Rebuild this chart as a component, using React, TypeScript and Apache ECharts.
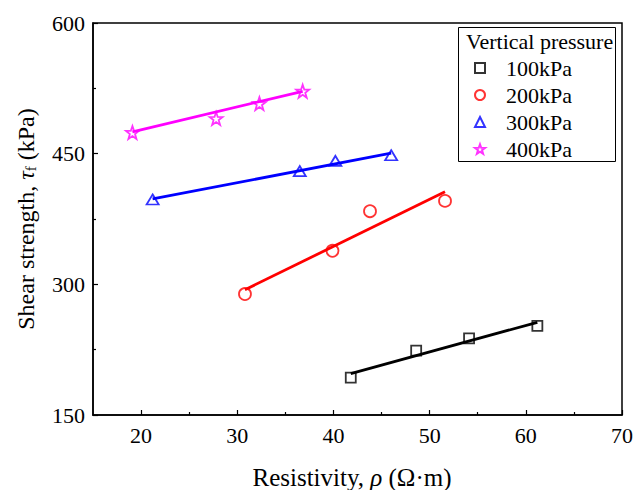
import React, { useEffect, useRef } from 'react';
import * as echarts from 'echarts';

const seriesNames = ['100kPa', '200kPa', '300kPa', '400kPa'];
const colors = ['#000000', '#ff0000', '#0000ff', '#ff00ff'];

const rho100 = [41.8, 48.6, 54.1, 61.2];
const tau100 = [192.8, 223.8, 238.0, 252.4];
const rho200 = [30.8, 39.9, 43.8, 51.6];
const tau200 = [288.8, 338.5, 384.0, 395.8];
const rho300 = [21.2, 36.5, 40.2, 46.0];
const tau300 = [397.4, 429.9, 441.7, 448.2];
const rho400 = [19.1, 27.8, 32.3, 36.8];
const tau400 = [474.3, 490.3, 507.5, 521.7];

// fitted line end points [rho, tau]
const fit100 = [[41.8, 197.6], [61.2, 256.4]];
const fit200 = [[30.8, 293.8], [51.6, 406.3]];
const fit300 = [[21.2, 398.0], [46.0, 450.5]];
const fit400 = [[19.1, 475.1], [36.8, 521.6]];

const xMajorTicks = [20, 30, 40, 50, 60, 70];
const xMinorTicks = [25, 35, 45, 55, 65];
const yTicks = [150, 300, 450, 600];

const legendTitle = 'Vertical pressure';
const xTitle = 'Resistivity, {i|ρ} (Ω·m)';
const yTitle = 'Shear strength, {i|τ}{s|f} (kPa)';

const FONT = 'Liberation Serif';
const STAR = 'path://M10 0 L12.351 6.764 L19.511 6.91 L13.804 11.236 L15.878 18.09 L10 14 L4.122 18.09 L6.196 11.236 L0.489 6.91 L7.649 6.764 Z';

const zip = (a: number[], b: number[]) => a.map((v, i) => [v, b[i]]);

export default function App() {
  const ref = useRef<HTMLDivElement>(null);
  useEffect(() => {
    if (!ref.current) return;
    const chart = echarts.init(ref.current, null, { renderer: 'svg' });
    const scatterData = [zip(rho100, tau100), zip(rho200, tau200), zip(rho300, tau300), zip(rho400, tau400)];
    const fits = [fit100, fit200, fit300, fit400];
    const symbols = ['rect', 'circle', 'triangle', STAR];
    const sizes: any[] = [10, 12, [12, 10], 13];

    const series: any[] = [];
    fits.forEach((f, i) => {
      series.push({
        name: 'fit' + seriesNames[i],
        type: 'line',
        data: f,
        showSymbol: false,
        symbol: 'none',
        lineStyle: { color: colors[i], width: 2.8 },
        z: 2,
        silent: true,
      });
    });
    scatterData.forEach((d, i) => {
      series.push({
        name: seriesNames[i],
        type: 'scatter',
        data: d,
        symbol: symbols[i],
        symbolSize: sizes[i],
        itemStyle: { color: 'transparent', borderColor: colors[i], borderWidth: 1.8 },
        z: 3,
      });
    });

    const tickFont = { fontFamily: FONT, fontSize: 22, color: '#000' };

    chart.setOption({
      animation: false,
      backgroundColor: '#ffffff',
      textStyle: { fontFamily: FONT, color: '#000' },
      grid: {
        left: 93, right: 13, top: 23, bottom: 75,
        show: true, borderColor: '#000', borderWidth: 1.5,
        outerBoundsMode: 'none',
      },
      xAxis: [
        {
          type: 'value', min: 15, max: 70,
          name: xTitle, nameLocation: 'middle', nameGap: 50,
          nameTextStyle: {
            fontFamily: FONT, fontSize: 25, color: '#000', padding: [0, 11, 0, 0],
            rich: { i: { fontFamily: FONT, fontSize: 25, fontStyle: 'italic', color: '#000' } },
          },
          axisLine: { show: true, lineStyle: { color: '#000', width: 1.5 } },
          axisTick: { show: true, inside: true, length: 5, customValues: xMajorTicks, lineStyle: { color: '#000', width: 1.2 } },
          axisLabel: { customValues: xMajorTicks, margin: 9, ...tickFont },
          splitLine: { show: false },
        },
        {
          type: 'value', min: 15, max: 70, position: 'bottom',
          axisLine: { show: false },
          axisTick: { show: true, inside: true, length: 3, customValues: xMinorTicks, lineStyle: { color: '#000', width: 1.2 } },
          axisLabel: { show: false },
          splitLine: { show: false },
        },
      ],
      yAxis: {
        type: 'value', min: 150, max: 600, interval: 150,
        name: yTitle, nameLocation: 'middle', nameGap: 55,
        nameTextStyle: {
          fontFamily: FONT, fontSize: 24, color: '#000',
          rich: {
            i: { fontFamily: FONT, fontSize: 24, fontStyle: 'italic', color: '#000' },
            s: { fontFamily: FONT, fontSize: 15, color: '#000', padding: [10, 0, 0, 0] },
          },
        },
        axisLine: { show: true, lineStyle: { color: '#000', width: 1.5 } },
        axisTick: { show: true, inside: true, length: 5, lineStyle: { color: '#000', width: 1.2 } },
        minorTick: { show: true, splitNumber: 2, length: 3, lineStyle: { color: '#000', width: 1.2 } },
        axisLabel: { margin: 8, customValues: yTicks, ...tickFont },
        splitLine: { show: false },
      },
      legend: {
        data: seriesNames,
        orient: 'vertical',
        left: 474, top: 57,
        padding: 0,
        itemWidth: 10, itemHeight: 10, itemGap: 5,
        textStyle: { fontFamily: FONT, fontSize: 22, color: '#000', lineHeight: 22, padding: [0, 0, 0, 16] },
      },
      graphic: [
        {
          type: 'rect', z: 100, silent: true,
          shape: { x: 458.5, y: 27.5, width: 157, height: 134 },
          style: { fill: 'transparent', stroke: '#000', lineWidth: 1 },
        },
        {
          type: 'text', z: 100, silent: true, x: 466, y: 41,
          style: { text: legendTitle, fontFamily: FONT, fontSize: 22, fill: '#000', verticalAlign: 'middle' },
        },
      ],
      series,
    });
    return () => chart.dispose();
  }, []);
  return <div ref={ref} style={{ width: 635, height: 490, position: 'absolute', left: 0, top: 0 }} />;
}
